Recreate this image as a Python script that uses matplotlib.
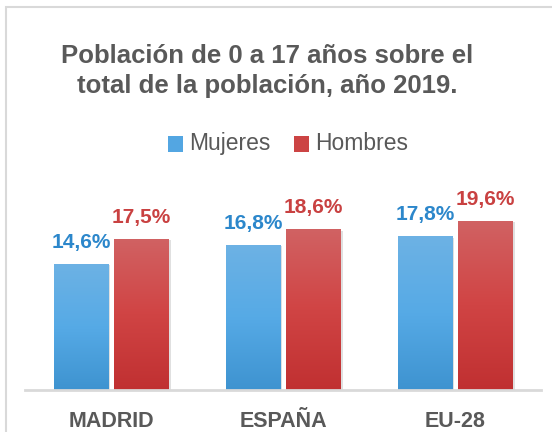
import numpy as np
import matplotlib.pyplot as plt
from matplotlib.colors import LinearSegmentedColormap
from matplotlib.patches import Rectangle

# datos
regiones = ['MADRID', 'ESPAÑA', 'EU-28']
mujeres = [14.6, 16.8, 17.8]
hombres = [17.5, 18.6, 19.6]
etiquetas_series = ['Mujeres', 'Hombres']

plt.rcParams['font.family'] = ['Liberation Sans', 'DejaVu Sans']
gris = '#595959'

fig = plt.figure(figsize=(5.52, 4.32), dpi=100)
ax = fig.add_axes([25 / 552, 1 - 390 / 432, 516 / 552, 190 / 432])

# marco gris claro del grafico
fig.patches.append(Rectangle((6 / 552, -0.1), 1.2, 1.1 - 7 / 432, transform=fig.transFigure,
                             fill=False, edgecolor='#d9d9d9', linewidth=1.5))

x = np.arange(len(regiones))
ancho = 0.314
sep = 0.036

grad_azul = LinearSegmentedColormap.from_list('az', ['#3e93d0', '#56aae6', '#6db2e4'])
grad_rojo = LinearSegmentedColormap.from_list('ro', ['#c03031', '#d04444', '#d16263'])


def barras_degradado(posiciones, valores, cmap):
    barras = ax.bar(posiciones, valores, ancho, color='none', zorder=3)
    for b in barras:
        x0, y0 = b.get_x(), b.get_y()
        w, h = b.get_width(), b.get_height()
        # sombra suave
        ax.bar(x0 + w / 2 + 0.008, h, w + 0.012, bottom=-0.15, color='#000000', alpha=0.12, zorder=2)
        grad = np.linspace(0, 1, 256).reshape(-1, 1)
        im = ax.imshow(grad, extent=[x0, x0 + w, y0, y0 + h], origin='lower', aspect='auto',
                       cmap=cmap, zorder=3)
        im.set_clip_path(b)
    return barras


barras_degradado(x - ancho / 2 - sep / 2, mujeres, grad_azul)
barras_degradado(x + ancho / 2 + sep / 2, hombres, grad_rojo)

for i in range(len(regiones)):
    ax.text(x[i] - ancho / 2 - sep / 2, mujeres[i] + 1.85, f'{mujeres[i]:.1f}%'.replace('.', ','),
            ha='center', va='baseline', fontsize=15, fontweight='bold', color='#2c87cb')
    ax.text(x[i] + ancho / 2 + sep / 2, hombres[i] + 1.85, f'{hombres[i]:.1f}%'.replace('.', ','),
            ha='center', va='baseline', fontsize=15, fontweight='bold', color='#c94141')

ax.set_xlim(-0.5, 2.5)
ax.set_ylim(0, 22)
ax.set_yticks([])
ax.set_xticks(x)
ax.set_xticklabels(regiones, fontsize=15.5, fontweight='bold', color=gris)
ax.tick_params(axis='x', length=0, pad=15)
for lado in ['top', 'right', 'left']:
    ax.spines[lado].set_visible(False)
ax.spines['bottom'].set_color('#d9d9d9')
ax.spines['bottom'].set_linewidth(2)
ax.spines['bottom'].set_zorder(4)

# titulo
fig.text(267 / 552, 1 - 71 / 432, 'Población de 0 a 17 años sobre el\ntotal de la población, año 2019.',
         ha='center', va='center', fontsize=18.5, fontweight='bold', color=gris, linespacing=1.3)

# leyenda
fig.patches.append(Rectangle((168 / 552, 1 - 152 / 432), 15 / 552, 16 / 432, transform=fig.transFigure,
                             facecolor='#53a6e2', edgecolor='none'))
fig.patches.append(Rectangle((294 / 552, 1 - 152 / 432), 15 / 552, 16 / 432, transform=fig.transFigure,
                             facecolor='#cc4444', edgecolor='none'))
fig.text(189 / 552, 1 - 144 / 432, etiquetas_series[0], ha='left', va='center', fontsize=16.5, color=gris)
fig.text(315 / 552, 1 - 144 / 432, etiquetas_series[1], ha='left', va='center', fontsize=16.5, color=gris)

fig.savefig('out.png', dpi=100)
